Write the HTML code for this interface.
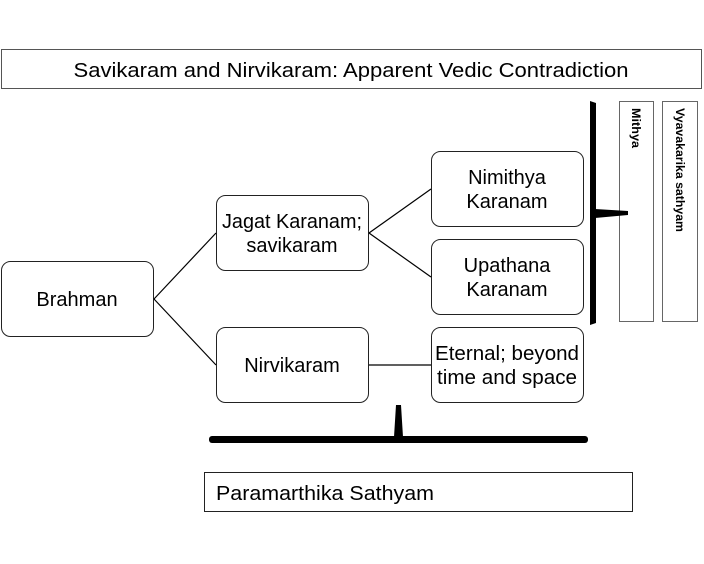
<!DOCTYPE html>
<html><head><meta charset="utf-8"><style>
html,body{margin:0;padding:0;background:#fff;}
svg{display:block;font-family:"Liberation Sans",sans-serif;}
</style></head><body>
<svg width="704" height="564" viewBox="0 0 704 564" xmlns="http://www.w3.org/2000/svg">
<rect x="1.5" y="49.5" width="700" height="39" fill="#fff" stroke="#555" stroke-width="1"/>
<text x="351" y="77" font-size="20" text-anchor="middle" textLength="555" lengthAdjust="spacingAndGlyphs">Savikaram and Nirvikaram:  Apparent Vedic Contradiction</text>
<g fill="#fff" stroke="#222" stroke-width="1">
<rect x="1.5" y="261.5" width="152" height="75" rx="9"/>
<rect x="216.5" y="195.5" width="152" height="75" rx="9"/>
<rect x="216.5" y="327.5" width="152" height="75" rx="9"/>
<rect x="431.5" y="151.5" width="152" height="75" rx="9"/>
<rect x="431.5" y="239.5" width="152" height="75" rx="9"/>
<rect x="431.5" y="327.5" width="152" height="75" rx="9"/>
</g>
<g stroke="#000" stroke-width="1.2" fill="none">
<line x1="154" y1="299" x2="216" y2="233"/>
<line x1="154" y1="299" x2="216" y2="365"/>
<line x1="369" y1="233" x2="431" y2="189"/>
<line x1="369" y1="233" x2="431" y2="277"/>
<line x1="369" y1="365" x2="431" y2="365"/>
</g>
<g font-size="20" text-anchor="middle" fill="#000">
<text x="77" y="306">Brahman</text>
<text x="292" y="228" textLength="140" lengthAdjust="spacingAndGlyphs">Jagat Karanam;</text>
<text x="292" y="252">savikaram</text>
<text x="292" y="372">Nirvikaram</text>
<text x="507" y="184">Nimithya</text>
<text x="507" y="208">Karanam</text>
<text x="507" y="272">Upathana</text>
<text x="507" y="296">Karanam</text>
<text x="507" y="360" textLength="144" lengthAdjust="spacingAndGlyphs">Eternal; beyond</text>
<text x="507" y="384" textLength="140" lengthAdjust="spacingAndGlyphs">time and space</text>
</g>
<rect x="619.5" y="101.5" width="34" height="220" fill="#fff" stroke="#666"/>
<rect x="662.5" y="101.5" width="35" height="220" fill="#fff" stroke="#666"/>
<text transform="translate(632,108) rotate(90)" font-size="12" font-weight="bold" textLength="40" lengthAdjust="spacingAndGlyphs">Mithya</text>
<text transform="translate(676,108) rotate(90)" font-size="12" font-weight="bold" textLength="124" lengthAdjust="spacingAndGlyphs">Vyavakarika sathyam</text>
<!-- right brace -->
<path d="M590 101 L596 103 L596 323 L590 325 Z" fill="#000"/>
<path d="M595 209 L628 211 L628 215 L595 218 Z" fill="#000"/>
<!-- bottom brace -->
<rect x="209" y="436" width="379" height="7" rx="3" fill="#000"/>
<path d="M396 405 L401 405 L403 437 L394 437 Z" fill="#000"/>
<rect x="204.5" y="472.5" width="428" height="39" fill="#fff" stroke="#222"/>
<text x="216" y="500" font-size="20" textLength="218" lengthAdjust="spacingAndGlyphs">Paramarthika Sathyam</text>
</svg>
</body></html>
